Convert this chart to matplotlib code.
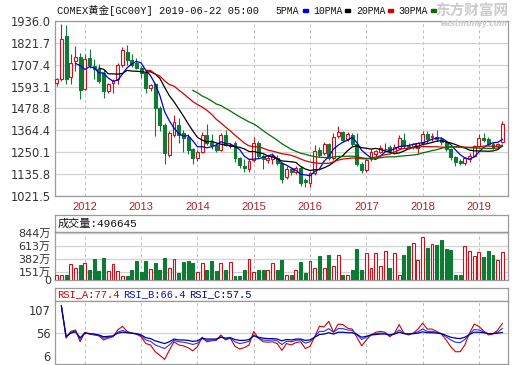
import matplotlib
matplotlib.use('Agg')
import matplotlib.pyplot as plt
import numpy as np
import pandas as pd
from matplotlib.patches import Rectangle

# ---------------- data (monthly bars, Jul 2011 .. Jun 2019) ----------------
opens = [1613, 1630, 1857, 1645, 1726, 1749, 1578, 1744, 1700, 1683,
         1665, 1570, 1612, 1630, 1706, 1775, 1733, 1718, 1690, 1665,
         1587, 1605, 1482, 1395, 1237, 1340, 1395, 1350, 1330, 1265,
         1218, 1253, 1340, 1305, 1290, 1262, 1340, 1285, 1300, 1218,
         1180, 1165, 1210, 1297, 1230, 1210, 1215, 1220, 1195, 1120,
         1165, 1145, 1170, 1105, 1088, 1140, 1260, 1245, 1295, 1220,
         1335, 1355, 1320, 1340, 1295, 1190, 1160, 1215, 1240, 1250,
         1265, 1280, 1245, 1275, 1315, 1285, 1278, 1275, 1300, 1345,
         1330, 1330, 1322, 1305, 1265, 1225, 1205, 1195, 1215, 1232,
         1285, 1325, 1320, 1295, 1282, 1305]
highs = [1640, 1919, 1913, 1761, 1805, 1768, 1761, 1790, 1735, 1710,
         1680, 1612, 1630, 1715, 1800, 1810, 1760, 1740, 1700, 1680,
         1605, 1610, 1490, 1405, 1360, 1444, 1428, 1365, 1345, 1275,
         1260, 1355, 1400, 1345, 1300, 1350, 1365, 1300, 1310, 1225,
         1215, 1215, 1330, 1310, 1240, 1235, 1245, 1235, 1200, 1180,
         1175, 1180, 1180, 1115, 1150, 1290, 1280, 1305, 1300, 1350,
         1385, 1362, 1355, 1350, 1350, 1200, 1215, 1270, 1262, 1290,
         1300, 1290, 1295, 1340, 1350, 1300, 1300, 1305, 1360, 1360,
         1352, 1365, 1330, 1310, 1275, 1230, 1215, 1225, 1245, 1290,
         1345, 1350, 1330, 1305, 1300, 1415]
lows = [1595, 1620, 1604, 1604, 1674, 1526, 1575, 1690, 1630, 1612,
        1535, 1560, 1560, 1604, 1697, 1706, 1697, 1685, 1640, 1560,
        1570, 1335, 1360, 1190, 1225, 1330, 1300, 1250, 1240, 1190,
        1205, 1245, 1290, 1270, 1250, 1255, 1285, 1275, 1200, 1170,
        1150, 1150, 1200, 1220, 1165, 1195, 1190, 1185, 1090, 1110,
        1130, 1135, 1075, 1072, 1070, 1130, 1225, 1235, 1210, 1210,
        1325, 1305, 1310, 1285, 1180, 1140, 1150, 1205, 1228, 1245,
        1255, 1240, 1240, 1265, 1275, 1265, 1265, 1245, 1290, 1300,
        1310, 1310, 1290, 1255, 1210, 1180, 1185, 1185, 1200, 1225,
        1278, 1305, 1285, 1270, 1270, 1300]
closes = [1630, 1840, 1630, 1718, 1749, 1574, 1739, 1704, 1683, 1622,
          1570, 1605, 1624, 1706, 1784, 1733, 1706, 1692, 1665, 1587,
          1600, 1482, 1395, 1247, 1351, 1410, 1340, 1323, 1262, 1218,
          1253, 1340, 1297, 1288, 1262, 1340, 1290, 1290, 1218, 1183,
          1170, 1205, 1297, 1230, 1215, 1218, 1230, 1195, 1110, 1163,
          1145, 1170, 1090, 1095, 1140, 1255, 1235, 1295, 1220, 1330,
          1355, 1315, 1345, 1295, 1190, 1160, 1210, 1250, 1255, 1275,
          1270, 1255, 1280, 1325, 1285, 1280, 1292, 1300, 1345, 1320,
          1335, 1320, 1305, 1265, 1225, 1200, 1195, 1220, 1232, 1285,
          1325, 1315, 1295, 1280, 1295, 1400]
# volume in 万
volumes = [89, 89, 89, 297, 226, 268, 315, 190, 369, 160,
           392, 166, 297, 166, 77, 77, 178, 339, 149, 339,
           208, 315, 190, 404, 226, 369, 131, 333, 351, 309,
           149, 309, 178, 339, 166, 309, 178, 321, 83, 83,
           190, 369, 149, 190, 190, 190, 315, 178, 357, 89,
           89, 178, 321, 131, 339, 226, 428, 226, 446, 250,
           446, 89, 89, 190, 547, 178, 488, 226, 488, 250,
           517, 220, 488, 89, 446, 612, 654, 357, 761, 577,
           642, 624, 714, 553, 535, 89, 89, 606, 517, 428,
           499, 410, 517, 446, 357, 499]
nan = float('nan')
rsi_a = [nan, 116, 45, 60, 63, 37, 58, 54, 52, 50,
         41, 45, 48, 63, 71, 60, 56, 54, 48, 33,
         30, 15, 7, -2, 18, 37, 30, 28, 24, 17,
         26, 47, 37, 39, 40, 52, 41, 45, 27, 21,
         24, 30, 60, 45, 37, 36, 37, 33, 18, 33,
         30, 35, 37, 22, 27, 48, 71, 70, 82, 58,
         76, 75, 67, 65, 47, 28, 41, 52, 58, 60,
         58, 48, 56, 75, 56, 52, 56, 65, 78, 65,
         65, 60, 54, 41, 26, 15, 15, 30, 56, 76,
         71, 61, 52, 54, 63, 77.4]
rsi_b = [nan, 116, 47, 58, 61, 42, 57, 55, 53, 51,
         45, 47, 49, 58, 62, 58, 56, 54, 50, 41,
         38, 30, 26, 22, 30, 40, 37, 36, 34, 31,
         34, 44, 40, 41, 41, 48, 43, 45, 37, 33,
         35, 38, 52, 45, 41, 40, 41, 39, 31, 38,
         37, 40, 41, 34, 37, 48, 60, 60, 66, 58,
         66, 66, 63, 62, 53, 42, 47, 52, 55, 56,
         56, 51, 55, 63, 56, 54, 56, 59, 65, 60,
         60, 58, 55, 48, 41, 36, 35, 42, 54, 64,
         63, 59, 55, 55, 58, 66.4]
rsi_c = [nan, 116, 49, 56, 59, 46, 56, 55, 54, 52,
         48, 49, 50, 56, 58, 57, 56, 55, 52, 46,
         44, 39, 36, 33, 37, 43, 41, 41, 40, 38,
         39, 45, 43, 43, 43, 47, 45, 46, 42, 40,
         40, 42, 50, 47, 45, 44, 44, 43, 39, 42,
         41, 43, 43, 40, 41, 47, 53, 54, 57, 54,
         58, 58, 57, 57, 53, 47, 49, 52, 53, 54,
         54, 52, 54, 58, 55, 54, 55, 56, 59, 57,
         57, 56, 55, 51, 47, 45, 44, 47, 53, 58,
         58, 57, 55, 55, 56, 57.5]
year_labels = ['2012', '2013', '2014', '2015', '2016', '2017', '2018', '2019']
year_index = [6, 18, 30, 42, 54, 66, 78, 90]
price_ticks = [1021.5, 1135.8, 1250.1, 1364.4, 1478.8, 1593.1, 1707.4, 1821.7, 1936.0]
price_labels = ['1021.5', '1135.8', '1250.1', '1364.4', '1478.8', '1593.1', '1707.4', '1821.7', '1936.0']
vol_ticks = [0, 151, 382, 613, 844]
vol_labels = ['0', '151万', '382万', '613万', '844万']
rsi_ticks = [6, 56, 107]
rsi_labels = ['6', '56', '107']
ma_periods = [5, 10, 20, 30]
ma_names = ['5PMA', '10PMA', '20PMA', '30PMA']
ma_colors = ['#0000cc', '#000000', '#d40000', '#007000']
last_volume = '496645'

# ---------------- figure ----------------
W, H = 520, 365
fig = plt.figure(figsize=(W / 100, H / 100), dpi=100)
fig.patch.set_facecolor('white')

RED = '#c8141e'
GREEN = '#0e7a36'
SPINE = '#9a9a9a'
GRID = '#d2d2d2'
TXT = '#333333'
CJK = ['DejaVu Sans', 'Noto Sans CJK SC']
MONO = ['Liberation Mono', 'Noto Sans CJK SC']


def ax_px(l, t, r, b):
    return fig.add_axes([l / W, 1 - b / H, (r - l) / W, (b - t) / H])


def style(ax):
    for s in ax.spines.values():
        s.set_color(SPINE)
        s.set_linewidth(0.9)
    ax.tick_params(length=0, colors=TXT, labelsize=8, pad=3)


n = len(closes)
x = np.arange(n)
O = np.array(opens, float)
C = np.array(closes, float)
Hh = np.array(highs, float)
L = np.array(lows, float)
up = C >= O
edge = np.where(up, RED, GREEN)
face = np.where(up, '#fff4f4', GREEN)
XL = (-0.36, 96.2)

# main price panel
ax = ax_px(55, 20.7, 508, 196.2)
style(ax)
ax.set_xlim(*XL)
ax.set_ylim(price_ticks[0], price_ticks[-1])
ax.set_yticks(price_ticks)
ax.set_yticklabels(price_labels, fontsize=8.3)
ax.set_xticks(year_index)
ax.set_xticklabels(year_labels, fontsize=8, color='#b0202a', family='Liberation Sans')
ax.tick_params(axis='x', pad=4)
ax.yaxis.grid(True, color=GRID, lw=0.9)
ax.xaxis.grid(True, color='#bdbdbd', lw=0.7, ls=(0, (3, 3)))
ax.set_axisbelow(True)
ax.vlines(x, L, Hh, colors=edge, lw=0.8, zorder=2)
body_h = np.maximum(np.abs(C - O), 3)
ax.bar(x, body_h, bottom=np.minimum(O, C), width=0.62, color=face,
       edgecolor=edge, lw=0.8, zorder=3)
cs = pd.Series(C)
for p, col in zip(ma_periods, ma_colors):
    ax.plot(x, cs.rolling(p).mean(), color=col, lw=0.9, zorder=4)

# header texts
fig.text(57 / W, 1 - 10.5 / H, 'COMEX黄金[GC00Y] 2019-06-22 05:00', family=MONO,
         fontsize=7.5, va='center', ha='left', color='#111111')
leg_x = [275, 313, 356, 398]
rect_x = [302.5, 345, 388, 431]
for name, col, tx, rx in zip(ma_names, ma_colors, leg_x, rect_x):
    fig.text(tx / W, 1 - 10.5 / H, name, family=MONO, fontsize=7.1,
             va='center', ha='left', color='#111111')
    fig.patches.append(Rectangle((rx / W, 1 - 12 / H), 5 / W, 3 / H,
                                 transform=fig.transFigure, color=col))
# watermark
fig.text(508 / W, 1 - 11 / H, '东方财富网', family=['Noto Sans CJK SC'], fontsize=10.5,
         fontweight='bold', color='#cccccc', ha='right', va='center')
fig.text(508 / W, 1 - 24 / H, 'eastmoney.com', family=['DejaVu Sans'], fontsize=5.5,
         fontweight='bold', style='italic', color='#cccccc', ha='right', va='center')

# volume panel
axvh = ax_px(55, 214.7, 508, 232)
style(axvh)
axvh.set_xticks([])
axvh.set_yticks([])
axvh.text(0.005, 0.48, '成交量:' + last_volume, transform=axvh.transAxes,
          family=MONO, fontsize=8, va='center', ha='left', color='#111111')
axv = ax_px(55, 232, 508, 280.3)
style(axv)
axv.set_xlim(*XL)
axv.set_ylim(0, 844 * 48.3 / 47.6)
axv.set_yticks(vol_ticks)
axv.set_yticklabels(vol_labels, family=CJK, fontsize=8)
axv.set_xticks(year_index)
axv.set_xticklabels([])
axv.yaxis.grid(True, color=GRID, lw=0.9)
axv.xaxis.grid(True, color='#bdbdbd', lw=0.7, ls=(0, (3, 3)))
axv.set_axisbelow(True)
axv.bar(x, volumes, width=0.62, color=face, edgecolor=edge, lw=0.8, zorder=3)

# RSI panel
axrh = ax_px(55, 288, 508, 301)
style(axrh)
axrh.set_xticks([])
axrh.set_yticks([])
rsi_heads = [('RSI_A:77.4', '#d00000', 57), ('RSI_B:66.4', '#1010c8', 123.5),
             ('RSI_C:57.5', '#000088', 189.5)]
for t, col, tx in rsi_heads:
    fig.text(tx / W, 1 - 294.5 / H, t, family=MONO, fontsize=7.5,
             va='center', ha='left', color=col)
axr = ax_px(55, 301, 508, 363.5)
style(axr)
axr.set_xlim(*XL)
axr.set_ylim(-11, 127)
axr.set_yticks(rsi_ticks)
axr.set_yticklabels(rsi_labels, fontsize=8.3)
axr.set_xticks(year_index)
axr.set_xticklabels([])
axr.xaxis.grid(True, color='#bdbdbd', lw=0.7, ls=(0, (3, 3)))
axr.axhline(56, color=GRID, lw=0.9, zorder=0)
axr.set_axisbelow(True)
axr.plot(x, rsi_a, color='#d00000', lw=0.8)
axr.plot(x, rsi_b, color='#2233ee', lw=0.8)
axr.plot(x, rsi_c, color='#000099', lw=0.9)

fig.savefig('out.png', dpi=100)
